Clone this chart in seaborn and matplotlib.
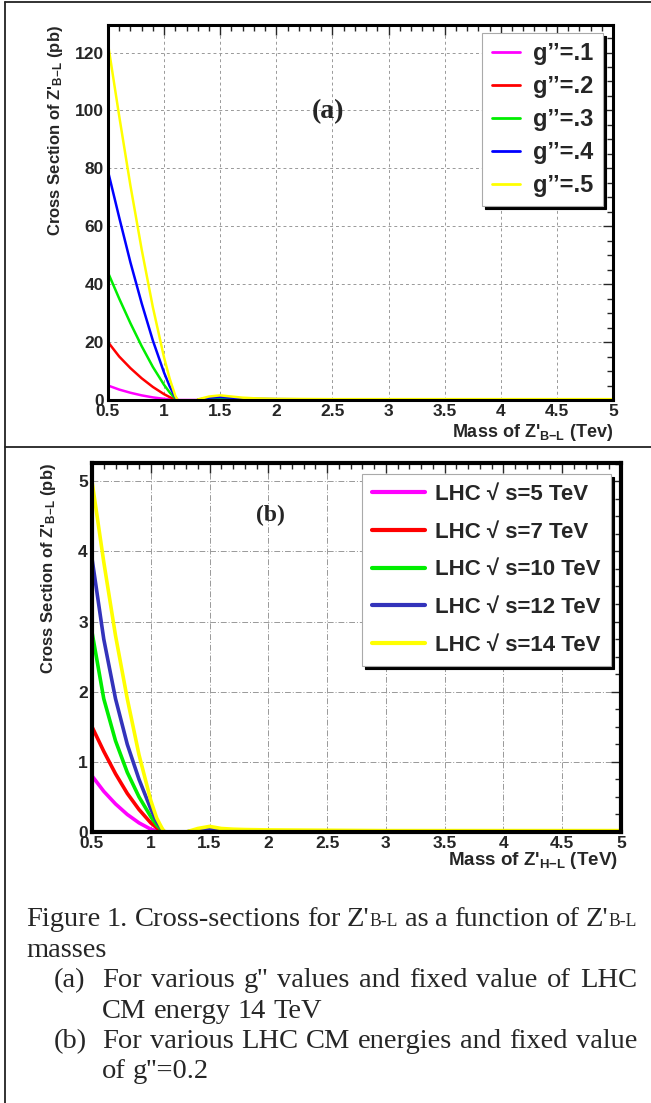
import numpy as np
import pandas as pd
import seaborn as sns
import matplotlib.pyplot as plt
from matplotlib.lines import Line2D
from matplotlib.ticker import MultipleLocator, AutoMinorLocator, FuncFormatter

nan = np.nan

mass = [0.5, 0.6, 0.7, 0.8, 0.9, 1.0, 1.05, 1.1, 1.12, 1.2, 1.3, 1.4, 1.5,
        1.6, 1.7, 1.8, 2.0, 2.5, 3.0, 3.5, 4.0, 4.5, 5.0]

# panel (a): various g'' at 14 TeV
labels_a = ["g\u2019\u2019=.1", "g\u2019\u2019=.2", "g\u2019\u2019=.3", "g\u2019\u2019=.4", "g\u2019\u2019=.5"]
colors_a = ['#ff00ff', '#ff0000', '#00ee00', '#0000ff', '#ffff00']
g1 = [5, 3.6, 2.5, 1.6, 0.9, 0.4, 0.2, 0.05, 0, 0, 0, 0.05, 0.08, 0.05, 0.04, 0.03, 0.02, 0.01, 0.01, 0.01, 0.01, 0.01, 0.01]
g2 = [20, 15, 11, 7.5, 4.5, 2, 1, 0.2, 0, nan, 0.02, 0.2, 0.3, 0.2, 0.15, 0.1, 0.08, 0.05, 0.05, 0.05, 0.05, 0.05, 0.05]
g3 = [44, 35, 26.5, 18.6, 11.4, 5.2, 2.6, 0.5, 0, nan, 0.05, 0.5, 0.6, 0.45, 0.3, 0.2, 0.15, 0.1, 0.1, 0.1, 0.1, 0.1, 0.1]
g4 = [79, 63, 47.5, 33.4, 20.5, 9.4, 4.7, 0.9, 0, nan, 0.1, 0.8, 1.0, 0.8, 0.5, 0.4, 0.3, 0.2, 0.2, 0.2, 0.2, 0.2, 0.2]
g5 = [123, 98, 74, 52, 32, 14.6, 7.3, 1.4, 0, nan, 0.2, 1.2, 1.6, 1.2, 0.8, 0.6, 0.4, 0.3, 0.3, 0.3, 0.3, 0.3, 0.3]

# panel (b): various LHC energies at g''=0.2
labels_b = ["LHC \u221a s=5 TeV", "LHC \u221a s=7 TeV", "LHC \u221a s=10 TeV",
            "LHC \u221a s=12 TeV", "LHC \u221a s=14 TeV"]
colors_b = ['#ff00ff', '#ff0000', '#00ee00', '#3333bb', '#ffff00']
s5 = [0.8, 0.58, 0.4, 0.25, 0.13, 0.04, 0.015, 0, 0, nan, 0, 0.005, 0.008, 0.005, 0.004, 0.003, 0.002, 0.002, 0.002, 0.002, 0.002, 0.002, 0.002]
s7 = [1.5, 1.15, 0.83, 0.55, 0.32, 0.13, 0.06, 0.01, 0, nan, 0, 0.01, 0.015, 0.01, 0.008, 0.006, 0.005, 0.004, 0.004, 0.004, 0.004, 0.004, 0.004]
s10 = [2.85, 1.9, 1.3, 0.85, 0.5, 0.22, 0.1, 0.02, 0, nan, 0, 0.02, 0.03, 0.02, 0.015, 0.01, 0.01, 0.008, 0.008, 0.008, 0.008, 0.008, 0.008]
s12 = [3.9, 2.75, 1.9, 1.25, 0.75, 0.33, 0.15, 0.03, 0, nan, 0, 0.03, 0.05, 0.03, 0.02, 0.02, 0.015, 0.01, 0.01, 0.01, 0.01, 0.01, 0.01]
s14 = [5.0, 3.85, 2.8, 1.9, 1.1, 0.45, 0.2, 0.04, 0, nan, 0, 0.05, 0.08, 0.05, 0.04, 0.035, 0.03, 0.025, 0.02, 0.02, 0.02, 0.02, 0.02]

W, H = 651, 1103
CAP = 20.5  # caption font size


def fx(px):
    return px / W


def fy(py):
    return 1 - py / H


def long_frame(series, labels):
    rows = []
    for lab, ys in zip(labels, series):
        seg = 0
        for m, v in zip(mass, ys):
            if np.isnan(v):
                seg += 1
                continue
            rows.append((m, v, lab, seg))
    return pd.DataFrame(rows, columns=['mass', 'xsec', 'curve', 'seg'])


def style_axes(ax, ymax, ystep, grid_ls, spine_w):
    ax.set_xlim(0.5, 5)
    ax.set_ylim(0, ymax)
    ax.xaxis.set_major_locator(MultipleLocator(0.5))
    ax.xaxis.set_minor_locator(AutoMinorLocator(5))
    ax.yaxis.set_major_locator(MultipleLocator(ystep))
    ax.yaxis.set_minor_locator(AutoMinorLocator(4))
    ax.xaxis.set_major_formatter(FuncFormatter(lambda v, p: '%g' % v))
    ax.tick_params(which='both', direction='in', top=True, right=True, width=1,
                   labelsize=12.5, pad=3)
    ax.tick_params(which='major', length=7)
    ax.tick_params(which='minor', length=4)
    for lab in ax.get_xticklabels() + ax.get_yticklabels():
        lab.set_fontweight('bold')
    ax.grid(True, which='major', color='#999999', ls=grid_ls, lw=0.7)
    for sp in ax.spines.values():
        sp.set_linewidth(spine_w)
        sp.set_color('black')
    ax.set_axisbelow(True)


def make_legend(ax, labels, colors, anchor, size, hl, lw, spacing, pad, tpad):
    handles = [Line2D([], [], color=c, lw=lw) for c in colors]
    leg = ax.legend(handles, labels, loc='upper right', bbox_to_anchor=anchor,
                    borderaxespad=0, frameon=True, fancybox=False,
                    shadow={'color': 'black', 'alpha': 1},
                    prop={'weight': 'bold', 'size': size},
                    handlelength=hl, handletextpad=tpad, labelspacing=spacing,
                    borderpad=pad, framealpha=1)
    leg.get_frame().set_edgecolor('#aaaaaa')
    leg.get_frame().set_linewidth(0.8)


def put_words(fig, words, x0, x1, baseline, justify, size=CAP):
    renderer = fig.canvas.get_renderer()
    pieces = []
    for word in words:
        if isinstance(word, str):
            word = [(word, size)]
        arts = []
        for txt, sz in word:
            t = fig.text(0, fy(baseline), txt, fontsize=sz, family='Liberation Serif',
                         va='baseline', ha='left')
            arts.append((t, t.get_window_extent(renderer).width))
        pieces.append(arts)
    widths = [sum(w for _, w in arts) for arts in pieces]
    space = size * fig.dpi / 72 * 0.25
    if justify and len(pieces) > 1:
        space = (x1 - x0 - sum(widths)) / (len(pieces) - 1)
    x = x0
    for arts in pieces:
        for t, w in arts:
            t.set_x(fx(x))
            x += w
        x += space


def main():
    sns.set_style('white')
    plt.rcParams['font.family'] = ['Liberation Sans', 'DejaVu Sans']
    plt.rcParams['mathtext.fontset'] = 'custom'
    plt.rcParams['mathtext.rm'] = 'Liberation Sans'
    plt.rcParams['mathtext.bf'] = 'Liberation Sans:bold'
    plt.rcParams['mathtext.it'] = 'Liberation Sans:italic'
    plt.rcParams['mathtext.default'] = 'bf'

    fig = plt.figure(figsize=(W / 100, H / 100), dpi=100)
    ax_a = fig.add_axes([fx(108), fy(400), (613 - 108) / W, (400 - 25) / H])
    ax_b = fig.add_axes([fx(92), fy(832), (621 - 92) / W, (832 - 463) / H])

    df_a = long_frame([g1, g2, g3, g4, g5], labels_a)
    sns.lineplot(data=df_a, x='mass', y='xsec', hue='curve', hue_order=labels_a,
                 palette=dict(zip(labels_a, colors_a)), units='seg', estimator=None,
                 lw=1.8, ax=ax_a, legend=False)
    style_axes(ax_a, 129.5, 20, (0, (3, 3)), 2.2)
    ax_a.set_ylabel(r"Cross Section of Z'$_{B{-}L}$ (pb)", loc='top', fontsize=12, fontweight='bold')
    ax_a.yaxis.set_label_coords(-0.085, 1.0)
    ax_a.set_xlabel(r"Mass of Z'$_{B{-}L}$ (Tev)", loc='right', fontsize=13, fontweight='bold')
    ax_a.xaxis.set_label_coords(1.0, -0.06)
    make_legend(ax_a, labels_a, colors_a, (0.980, 0.979), 17, 1.2, 2, 0.42, 0.4, 0.55)

    df_b = long_frame([s5, s7, s10, s12, s14], labels_b)
    sns.lineplot(data=df_b, x='mass', y='xsec', hue='curve', hue_order=labels_b,
                 palette=dict(zip(labels_b, colors_b)), units='seg', estimator=None,
                 lw=2.6, ax=ax_b, legend=False)
    style_axes(ax_b, 5.26, 1, (0, (6, 2, 1, 2)), 3)
    ax_b.set_ylabel(r"Cross Section of Z'$_{B{-}L}$ (pb)", loc='top', fontsize=12, fontweight='bold')
    ax_b.yaxis.set_label_coords(-0.064, 1.0)
    ax_b.set_xlabel(r"Mass of Z'$_{H{-}L}$ (TeV)", loc='right', fontsize=13.5, fontweight='bold')
    ax_b.xaxis.set_label_coords(0.994, -0.05)
    make_legend(ax_b, labels_b, colors_b, (0.981, 0.970), 16, 2.4, 3, 0.75, 0.45, 0.45)

    fig.text(fx(328), fy(112), '(a)', ha='center', va='center', family='Liberation Serif',
             fontweight='bold', fontsize=20)
    fig.text(fx(270), fy(515), '(b)', ha='center', va='center', family='Liberation Serif',
             fontweight='bold', fontsize=17)

    # table borders around the two cells
    for xs, ys in [([fx(5), fx(5)], [fy(2), 0]), ([fx(5), 1], [fy(2), fy(2)]),
                   ([fx(5), 1], [fy(447), fy(447)])]:
        fig.add_artist(Line2D(xs, ys, color='#222222', lw=1.3))

    zbl = [("Z'", CAP), ("B-L", CAP * 0.62)]
    put_words(fig, ["Figure", "1.", "Cross-sections", "for", zbl, "as", "a", "function", "of", zbl],
              26, 637, 926, True)
    put_words(fig, ["masses"], 26, 637, 957, False)
    put_words(fig, ["(a)"], 54, 100, 987, False)
    put_words(fig, "For various g'' values and fixed value of LHC".split(), 102, 637, 987, True)
    put_words(fig, "CM energy 14 TeV".split(), 102, 637, 1018, False)
    put_words(fig, ["(b)"], 54, 100, 1048, False)
    put_words(fig, "For various LHC CM energies and fixed value".split(), 102, 637, 1048, True)
    put_words(fig, "of g''=0.2".split(), 102, 637, 1078, False)

    fig.savefig('out.png', dpi=100)


if __name__ == '__main__':
    main()
